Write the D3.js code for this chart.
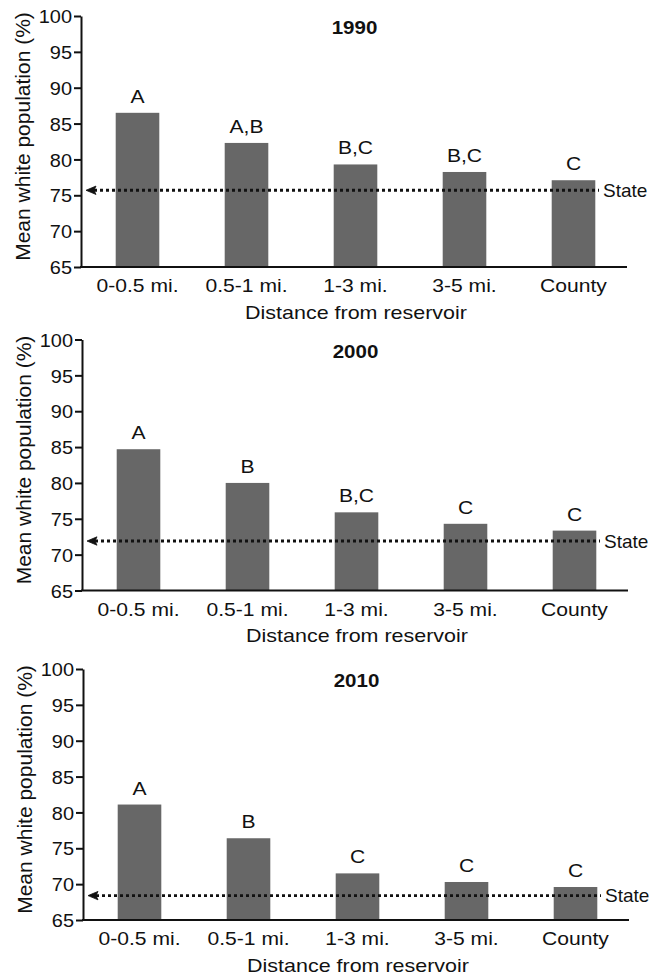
<!DOCTYPE html>
<html>
<head>
<meta charset="utf-8">
<script src="https://cdn.jsdelivr.net/npm/d3@7"></script>
<style>
  html, body { margin: 0; padding: 0; background: #fff; }
  svg { display: block; }
  text { font-family: Arial, "Liberation Sans", Helvetica, sans-serif; fill: #111; }
</style>
</head>
<body>
<svg id="chart" width="649" height="975"></svg>
<script>
// ---- data ----
const categories = ["0-0.5 mi.", "0.5-1 mi.", "1-3 mi.", "3-5 mi.", "County"];
const years = ["1990", "2000", "2010"];
const values1990 = [86.5, 82.3, 79.3, 78.25, 77.1];
const values2000 = [84.7, 80.0, 75.9, 74.3, 73.35];
const values2010 = [81.1, 76.4, 71.5, 70.3, 69.6];
const letters1990 = ["A", "A,B", "B,C", "B,C", "C"];
const letters2000 = ["A", "B", "B,C", "C", "C"];
const letters2010 = ["A", "B", "C", "C", "C"];
const stateValues = [75.7, 71.9, 68.4];
const yTicks = [65, 70, 75, 80, 85, 90, 95, 100];
const yDomain = [65, 100];
const stateLabel = "State";
const xTitle = "Distance from reservoir";
const yTitle = "Mean white population (%)";

const seriesValues = [values1990, values2000, values2010];
const seriesLetters = [letters1990, letters2000, letters2010];

// ---- layout ----
const panelTop = [16, 339.5, 669];
const panelLeft = [81, 82, 83];
const plotH = 251;
const plotW = 546;
const FS = 19;
const SX = 1.11; // horizontal stretch of the reference's lettering

const svg = d3.select("#chart");

years.forEach((yr, i) => {
  const top = panelTop[i], left = panelLeft[i];
  const bottom = top + plotH, right = left + plotW;
  const g = svg.append("g");

  const y = d3.scaleLinear().domain(yDomain).range([bottom, top]);
  const x = d3.scaleBand().domain(categories).range([left + 2, right + 1])
    .paddingInner(0.6).paddingOuter(0.3);

  // bars
  g.selectAll("rect.bar").data(categories).join("rect")
    .attr("class", "bar")
    .attr("x", d => x(d))
    .attr("width", x.bandwidth())
    .attr("y", (d, k) => y(seriesValues[i][k]))
    .attr("height", (d, k) => y(yDomain[0]) - y(seriesValues[i][k]))
    .attr("fill", "#676767");

  // significance letters
  g.selectAll("text.let").data(categories).join("text")
    .attr("class", "let")
    .attr("text-anchor", "middle")
    .attr("font-size", FS)
    .attr("transform", (d, k) => `translate(${x(d) + x.bandwidth() / 2},${y(seriesValues[i][k]) - 10}) scale(${SX},1)`)
    .text((d, k) => seriesLetters[i][k]);

  // state reference line (dotted, with arrowhead at the axis)
  const sy = y(stateValues[i]);
  const tipX = left + 5;
  g.append("line")
    .attr("x1", tipX + 8).attr("x2", right - 28)
    .attr("y1", sy).attr("y2", sy)
    .attr("stroke", "#111").attr("stroke-width", 2.8)
    .attr("stroke-dasharray", "3,3");
  g.append("path")
    .attr("d", `M${tipX},${sy} L${tipX + 10},${sy - 4.2} L${tipX + 8},${sy} L${tipX + 10},${sy + 4.2} Z`)
    .attr("fill", "#111").attr("stroke", "#111").attr("stroke-width", 0.8);
  g.append("text")
    .attr("x", right - 24).attr("y", sy + 6.8)
    .attr("font-size", 19)
    .text(stateLabel);

  // y axis
  const yAxis = g.append("g")
    .attr("transform", `translate(${left},0)`)
    .call(d3.axisLeft(y).tickValues(yTicks).tickSize(7).tickSizeOuter(0).tickPadding(2));
  yAxis.select(".domain").attr("stroke", "#111").attr("stroke-width", 2);
  yAxis.selectAll(".tick line").attr("stroke", "#111").attr("stroke-width", 2);
  yAxis.selectAll(".tick text")
    .attr("x", null).attr("dy", "0.35em")
    .attr("font-size", FS)
    .attr("fill", "#111")
    .attr("transform", `translate(-9,0) scale(1.05,1)`);
  yAxis.attr("font-family", null);

  // x axis baseline
  g.append("line")
    .attr("x1", left - 1).attr("x2", right)
    .attr("y1", bottom).attr("y2", bottom)
    .attr("stroke", "#111").attr("stroke-width", 2);

  // x tick labels
  g.selectAll("text.xt").data(categories).join("text")
    .attr("class", "xt")
    .attr("text-anchor", "middle")
    .attr("font-size", FS)
    .attr("transform", d => `translate(${x(d) + x.bandwidth() / 2},${bottom + 25}) scale(${SX},1)`)
    .text(d => d);

  // x title
  g.append("text")
    .attr("text-anchor", "middle")
    .attr("font-size", FS)
    .attr("transform", `translate(${(left + right) / 2 + 2},${bottom + 51.5}) scale(${SX + 0.02},1)`)
    .text(xTitle);

  // panel title
  g.append("text")
    .attr("text-anchor", "middle")
    .attr("font-size", FS)
    .attr("font-weight", "bold")
    .attr("transform", `translate(${(left + right) / 2 + 0.5},${top + 18}) scale(1.08,1)`)
    .text(yr);

  // y title
  g.append("text")
    .attr("text-anchor", "middle")
    .attr("font-size", 21)
    .attr("transform", `translate(${left - 51.5},${(top + bottom) / 2 - 5}) rotate(-90)`)
    .text(yTitle);
});
</script>
</body>
</html>
